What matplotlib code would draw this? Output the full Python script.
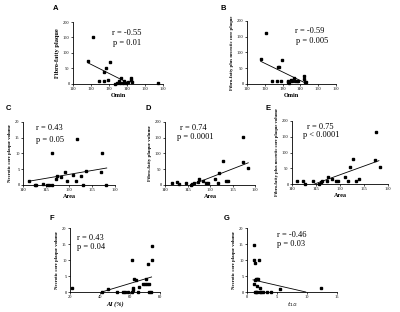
import matplotlib
matplotlib.use("Agg")
import matplotlib.pyplot as plt
import numpy as np

plt.rcParams['font.family'] = ['Liberation Serif', 'DejaVu Serif']

# ---------------- data ----------------
a_x = [118.4, 121.3, 124.6, 127.3, 127.4, 128.4, 129.7, 130.6, 133.5, 134.4, 135.3, 136.3,
       136.8, 137.6, 138.5, 139.6, 140.6, 142.3, 142.5, 142.8, 157.4]
a_y = [75, 153, 10.6, 10.6, 38, 53, 12.8, 71, 0, 4, 8.5, 4, 19, 2, 8.5, 2, 5, 19, 11.7, 5, 2]
a_fit_x = [118.4, 140.7]
a_fit_y = [68, 3]

b_x = [117.7, 120.6, 123.8, 126.6, 127.2, 127.9, 128.9, 129.8, 132.8, 133.2, 133.8, 134.5,
       135.5, 136.4, 137.0, 137.9, 138.9, 142.1, 142.1, 142.6, 143.2]
b_y = [79, 161, 10.5, 10.5, 53, 53, 10.5, 75, 10.5, 6, 3, 13.7, 8.4, 19, 8.4, 8.4, 8.4, 24, 17, 6, 6]
b_fit_x = [117.7, 143.6]
b_fit_y = [72, 1]

c_x = [141.3, 142.5, 142.9, 144.4, 145.2, 145.7, 146.2, 146.2, 147.1, 147.4, 148.2, 149.1,
       149.5, 150.8, 151.6, 151.8, 152.6, 153.1, 153.7, 156.9, 157.1, 158.0]
c_y = [1.2, 0, 0, 0.2, 0, 0, 10, 0, 1.8, 2.8, 2.6, 4.0, 1.4, 3.1, 1.4, 14.7, 2.8, 0, 4.3, 4.1, 10, 0]
c_fit_x = [141.3, 158.2]
c_fit_y = [1.2, 5.4]

d_x = [141.5, 142.6, 143.2, 144.7, 145.8, 146.1, 146.5, 147.3, 147.6, 148.4, 149.1, 149.5,
       151.0, 151.7, 152.1, 152.8, 153.6, 153.9, 157.3, 157.4, 158.4]
d_y = [5, 10.5, 2, 7, 0, 2, 5, 10.5, 18, 12.6, 5, 7, 19, 7, 39, 76, 12.6, 12.6, 72, 153, 53]
d_fit_x = [145.8, 158.5]
d_fit_y = [0, 70.5]

e_x = [141.1, 142.3, 142.8, 144.4, 145.6, 146.1, 146.3, 147.2, 147.5, 148.3, 149.2, 149.6,
       151.0, 151.7, 152.0, 152.7, 153.4, 154.0, 157.2, 157.4, 158.4]
e_y = [8, 10.5, 1, 8, 0, 5, 10.5, 10.5, 21, 16, 8, 8, 22, 8, 53, 79, 10.5, 16, 77, 164, 53]
e_fit_x = [144.7, 158.1]
e_fit_y = [0, 74]

f_x = [21.6, 41.1, 45.6, 51.1, 55.6, 56.7, 58.4, 61.1, 61.1, 61.8, 62.2, 62.7, 64.0, 65.1,
       66.0, 68.9, 70.0, 70.7, 71.1, 71.8, 72.7, 72.9, 73.8, 74.4, 74.4]
f_y = [1.4, 0, 1.05, 0, 0, 0, 0, 10, 0, 0.5, 1.3, 4, 3.7, 0, 1.6, 2.6, 2.6, 4, 2.6, 8.6,
       2.6, 0, 0, 10, 14.5]
f_fit_x = [41.1, 74.4]
f_fit_y = [0, 4.7]

g_x = [1.2, 1.2, 1.4, 1.1, 1.3, 1.5, 1.7, 1.9, 1.3, 1.5, 1.7, 1.7, 2.0, 2.2, 2.1, 2.4, 2.7,
       3.3, 4.0, 5.5, 12.4]
g_y = [14.7, 10, 9, 2.6, 3.7, 4, 4, 4, 0, 0, 1.8, 0, 10, 1.3, 0, 0, 0, 0, 0, 1.05, 1.4]
g_fit_x = [1.0, 9.8]
g_fit_y = [3.8, 0]

W, H = 400, 312
fig = plt.figure(figsize=(W / 100, H / 100), dpi=100)
fig.patch.set_facecolor('white')


def make_ax(x0, y0, x1, y1):
    return fig.add_axes([x0 / W, 1 - y1 / H, (x1 - x0) / W, (y1 - y0) / H])


def style(ax, xlim, ylim, xt, yt, xlabel, ylabel, ylab_fs):
    for s in ['top', 'right']:
        ax.spines[s].set_visible(False)
    for s in ['left', 'bottom']:
        ax.spines[s].set_linewidth(0.6)
    ax.set_xlim(*xlim)
    ax.set_ylim(*ylim)
    ax.set_xticks(xt)
    ax.set_yticks(yt)
    ax.tick_params(labelsize=3.2, length=1.5, width=0.5, pad=1)
    ax.set_xlabel(xlabel, fontsize=4.5, fontweight='bold', labelpad=1)
    ax.set_ylabel(ylabel, fontsize=ylab_fs, fontweight='bold', labelpad=2)
    ax.patch.set_alpha(0)


def scatter(ax, x, y, fx, fy):
    ax.plot(x, y, 's', color='black', markersize=1.6, clip_on=False, zorder=3)
    ax.plot(fx, fy, '-', color='black', linewidth=0.6, clip_on=False)


def ftext(x, y, s, fs=6, **kw):
    fig.text(x / W, 1 - y / H, s, fontsize=fs, va='center', ha='left', **kw)


# A
ax = make_ax(73, 22, 163, 84)
style(ax, (110, 160), (0, 200), range(110, 161, 10), range(0, 201, 50), 'Omin', 'Fibro-fatty plaque', 4.6)
scatter(ax, a_x, a_y, a_fit_x, a_fit_y)
ftext(112, 33, 'r = -0.55')
ftext(113, 43, 'p = 0.01')
ftext(53, 8, 'A', fs=5.5, fontweight='bold', family=['Liberation Sans'])

# B
ax = make_ax(247, 21, 336, 84)
style(ax, (110, 160), (0, 200), range(110, 161, 10), range(0, 201, 50), 'Omin',
      'Fibro-fatty plus necrotic core plaque', 3.4)
scatter(ax, b_x, b_y, b_fit_x, b_fit_y)
ftext(295, 31, 'r = -0.59')
ftext(296, 41, 'p = 0.005')
ftext(220, 8, 'B', fs=5.5, fontweight='bold', family=['Liberation Sans'])

# C
ax = make_ax(23, 122, 115, 185)
style(ax, (140, 160), (0, 20), range(140, 161, 5), range(0, 21, 5), 'Area',
      'Necrotic core plaque volume', 3.4)
scatter(ax, c_x, c_y, c_fit_x, c_fit_y)
ftext(36, 128, 'r = 0.43')
ftext(36, 140, 'p = 0.05')
ftext(6, 109, 'C', fs=5.5, fontweight='bold', family=['Liberation Sans'])

# D
ax = make_ax(165, 122, 255, 185)
style(ax, (140, 160), (0, 200), range(140, 161, 5), range(0, 201, 50), 'Area',
      'Fibro-fatty plaque volume', 3.6)
scatter(ax, d_x, d_y, d_fit_x, d_fit_y)
ftext(180, 128, 'r = 0.74')
ftext(177, 137, 'p = 0.0001')
ftext(145, 109, 'D', fs=5.5, fontweight='bold', family=['Liberation Sans'])

# E
ax = make_ax(292, 121, 388, 184)
style(ax, (140, 160), (0, 200), range(140, 161, 5), range(0, 201, 50), 'Area',
      'Fibro-fatty plus necrotic core plaque volume', 3.3)
scatter(ax, e_x, e_y, e_fit_x, e_fit_y)
ftext(307, 127, 'r = 0.75')
ftext(303, 135, 'p < 0.0001')
ftext(265, 109, 'E', fs=5.5, fontweight='bold', family=['Liberation Sans'])

# F
ax = make_ax(70, 228, 160, 292)
style(ax, (20, 80), (0, 20), range(20, 81, 20), range(0, 21, 5), 'AI (%)',
      'Necrotic core plaque volume', 3.4)
ax.xaxis.label.set_fontstyle('italic')
scatter(ax, f_x, f_y, f_fit_x, f_fit_y)
ftext(77, 238, 'r = 0.43')
ftext(77, 247, 'p = 0.04')
ftext(50, 219, 'F', fs=5.5, fontweight='bold', family=['Liberation Sans'])

# G
ax = make_ax(247, 228, 337, 292)
style(ax, (0, 15), (0, 20), range(0, 16, 5), range(0, 21, 5), r'$t_{1/2}$',
      'Necrotic core plaque volume', 3.4)
scatter(ax, g_x, g_y, g_fit_x, g_fit_y)
ftext(277, 235, 'r = -0.46')
ftext(277, 244, 'p = 0.03')
ftext(224, 219, 'G', fs=5.5, fontweight='bold', family=['Liberation Sans'])

fig.savefig('out.png', dpi=100, facecolor='white')
